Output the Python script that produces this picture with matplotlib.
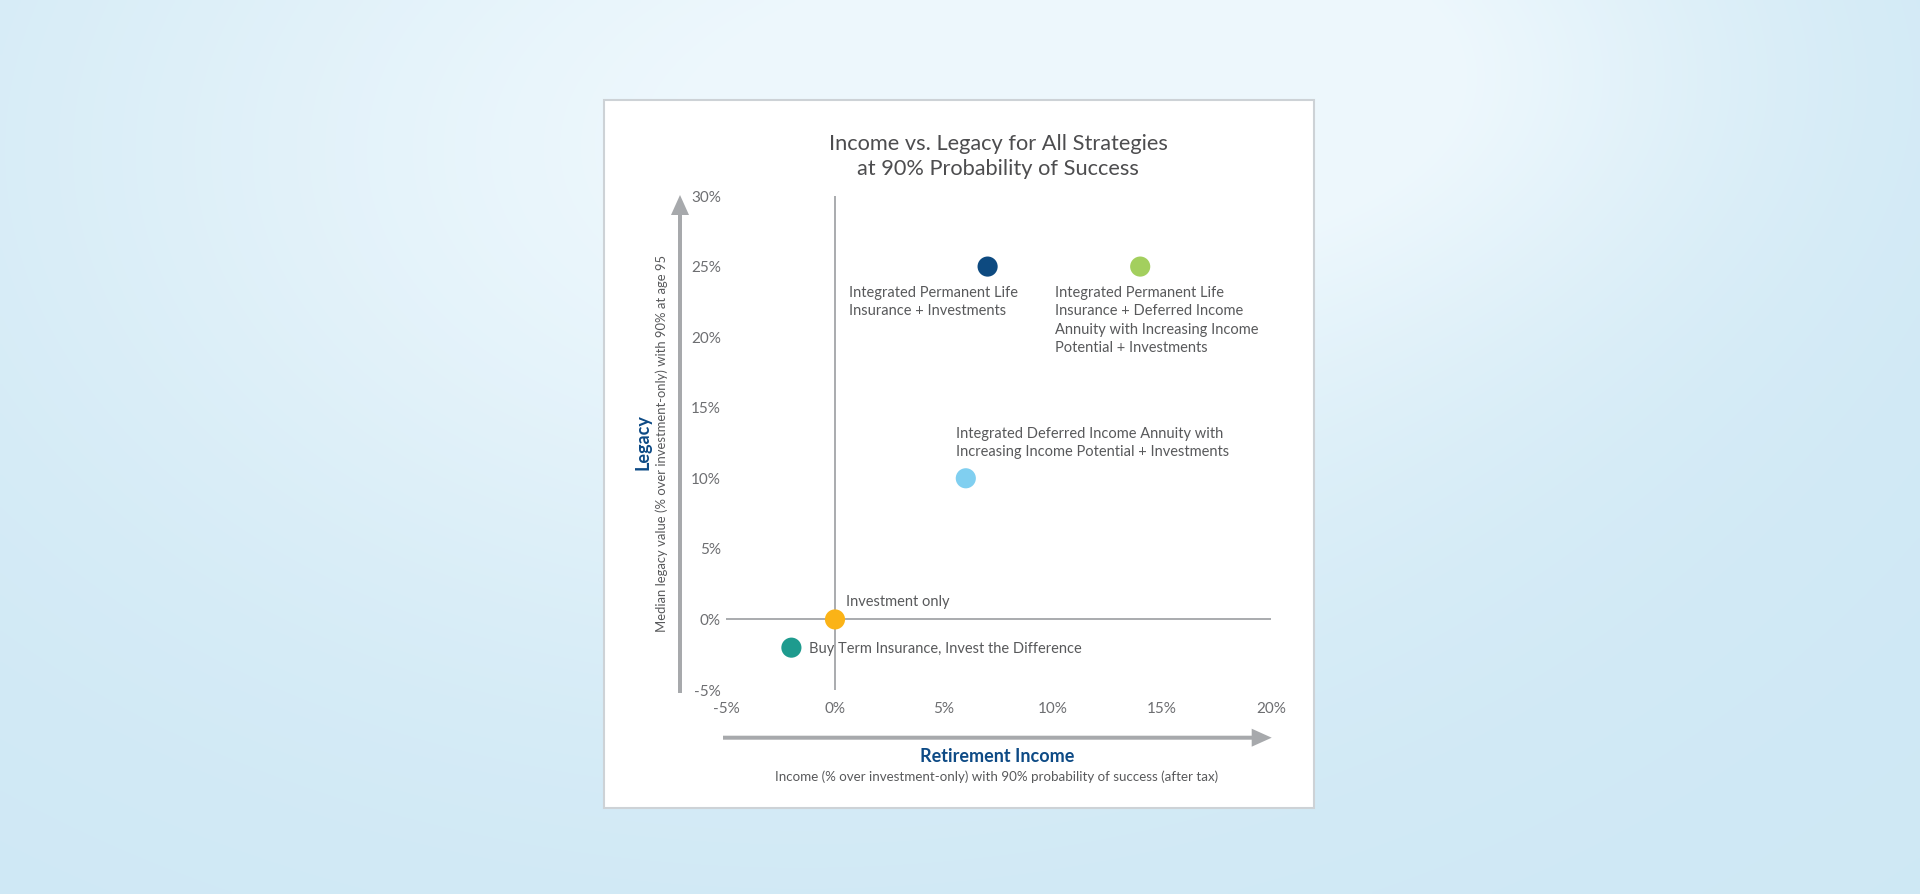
import numpy as np
import matplotlib
matplotlib.use("Agg")
import matplotlib.pyplot as plt
from matplotlib.patches import Rectangle, FancyArrow
from matplotlib.transforms import IdentityTransform

# ---------------- data ----------------
strategies = [
    "Integrated Permanent Life\nInsurance + Investments",
    "Integrated Permanent Life\nInsurance + Deferred Income\nAnnuity with Increasing Income\nPotential + Investments",
    "Integrated Deferred Income Annuity with\nIncreasing Income Potential + Investments",
    "Investment only",
    "Buy Term Insurance, Invest the Difference",
]
income = [7, 14, 6, 0, -2]        # % over investment-only
legacy = [25, 25, 10, 0, -2]      # % over investment-only
colors = ["#0d4a80", "#a3cf5e", "#80cff0", "#fbb317", "#1e9b8e"]

x_ticks = [-5, 0, 5, 10, 15, 20]
x_tick_labels = ["-5%", "0%", "5%", "10%", "15%", "20%"]
y_ticks = [-5, 0, 5, 10, 15, 20, 25, 30]
y_tick_labels = ["-5%", "0%", "5%", "10%", "15%", "20%", "25%", "30%"]

title_lines = ["Income vs. Legacy for All Strategies", "at 90% Probability of Success"]
x_title = "Retirement Income"
x_sub = "Income (% over investment-only) with 90% probability of success (after tax)"
y_title = "Legacy"
y_sub = "Median legacy value (% over investment-only) with 90% at age 95"

# label placement (offset pixels from marker, alignment)
label_style = [
    dict(dx=-139, dy=-19, va="top"),
    dict(dx=-85, dy=-19, va="top"),
    dict(dx=-10, dy=19, va="bottom"),
    dict(dx=11, dy=13, va="baseline"),
    dict(dx=18, dy=-5, va="baseline"),
]

# ---------------- figure ----------------
W, H = 1920, 894
plt.rcParams["font.family"] = ["Lato", "DejaVu Sans"]
fig = plt.figure(figsize=(W / 100, H / 100), dpi=100)

def fx(x):
    return x / W

def fy(y):
    return 1 - y / H

# background gradient
bg = fig.add_axes([0, 0, 1, 1], zorder=-3)
yy, xx = np.mgrid[0:H:4, 0:W:4]
base = np.array([0.81, 0.91, 0.96])
light = np.array([0.93, 0.97, 0.99])
w = np.exp(-(((xx - 800) / 750) ** 2 + ((yy - 150) / 500) ** 2))
w2 = 0.6 * np.exp(-(((xx - 1350) / 400) ** 2 + ((yy - 60) / 250) ** 2))
wt = np.clip(w + w2, 0, 1)[..., None]
img = base * (1 - wt) + light * wt
bg.imshow(img, aspect="auto", extent=[0, W, H, 0], interpolation="bilinear")
bg.set_axis_off()

# white panel
panel = Rectangle((604, H - 808), 710, 708, transform=IdentityTransform(),
                  facecolor="white", edgecolor="#cdd2d6", linewidth=1.5, zorder=-2)
fig.add_artist(panel)

# main axes: x -5..20 -> px 726..1271, y -5..30 -> px 690..196
ax = fig.add_axes([fx(726), fy(690), (1271 - 726) / W, (690 - 196) / H], zorder=0)
ax.set_facecolor("none")
ax.set_xlim(-5, 20)
ax.set_ylim(-5, 30)
for s in ax.spines.values():
    s.set_visible(False)
ax.axhline(0, color="#a3a5a8", lw=1.3, zorder=1)
ax.axvline(0, color="#a3a5a8", lw=1.3, zorder=1)

ax.set_xticks(x_ticks)
ax.set_xticklabels(x_tick_labels)
ax.set_yticks(y_ticks)
ax.set_yticklabels(y_tick_labels)
ax.tick_params(axis="both", length=0, labelsize=11, labelcolor="#6d6e71")
ax.tick_params(axis="x", pad=8.5)
ax.tick_params(axis="y", pad=3.6)

ax.scatter(income, legacy, s=210, c=colors, zorder=3, linewidths=0)

for name, xv, yv, st in zip(strategies, income, legacy, label_style):
    ax.annotate(name, xy=(xv, yv), xytext=(st["dx"], st["dy"]),
                textcoords="offset pixels", ha="left", va=st["va"],
                fontsize=10.5, color="#58595b", linespacing=1.42, zorder=4)

# arrows
arrow_color = "#a7a9ac"
fig.add_artist(FancyArrow(680, H - 693, 0, 693 - 195, width=4, head_width=18,
                          head_length=20, length_includes_head=True,
                          transform=IdentityTransform(), color=arrow_color,
                          linewidth=0, zorder=1))
fig.add_artist(FancyArrow(723, H - 737.7, 1271.7 - 723, 0, width=4, head_width=18,
                          head_length=20, length_includes_head=True,
                          transform=IdentityTransform(), color=arrow_color,
                          linewidth=0, zorder=1))

# titles
fig.text(fx(998), fy(150), title_lines[0], ha="center", va="baseline",
         fontsize=15.7, color="#4d4d4f")
fig.text(fx(998), fy(175), title_lines[1], ha="center", va="baseline",
         fontsize=15.7, color="#4d4d4f")

navy = "#0d4a85"
fig.text(fx(997), fy(762), x_title, ha="center", va="baseline",
         fontsize=13, fontweight="bold", color=navy)
fig.text(fx(997), fy(781), x_sub, ha="center", va="baseline",
         fontsize=9.6, color="#58595b")
fig.text(fx(643), fy(442), y_title, ha="center", va="center", rotation=90,
         fontsize=13, fontweight="bold", color=navy)
fig.text(fx(662), fy(443), y_sub, ha="center", va="center", rotation=90,
         fontsize=9.4, color="#58595b")

fig.savefig("out.png", dpi=100)
